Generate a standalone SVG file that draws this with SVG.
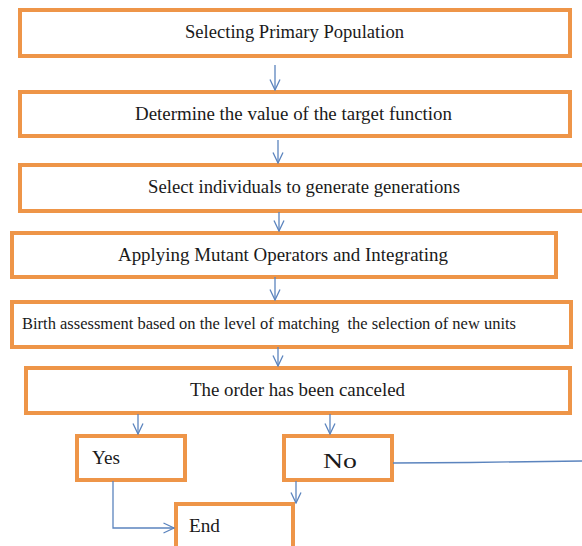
<svg xmlns="http://www.w3.org/2000/svg" width="582" height="546" viewBox="0 0 582 546">
<defs>
<style>
.box{fill:#ffffff;stroke:#EE9548;stroke-width:4;}
.t{font-family:"Liberation Serif","Times New Roman",serif;fill:#1a1a1a;}
.c{fill:none;stroke:#5B84BE;stroke-width:1.3;}
</style>
<marker id="ah" markerUnits="userSpaceOnUse" viewBox="0 0 12 12" refX="11.5" refY="6" markerWidth="12" markerHeight="12" orient="auto">
<path d="M1,1 L11.5,6 L1,11" fill="none" stroke="#5B84BE" stroke-width="1.3"/>
</marker>
</defs>
<rect width="582" height="546" fill="#ffffff"/>

<g id="n1">
<rect class="box" x="20" y="10" width="550" height="46"/>
<text class="t" x="294.5" y="38" font-size="18" text-anchor="middle" textLength="219" lengthAdjust="spacingAndGlyphs">Selecting Primary Population</text>
</g>
<g id="n2">
<rect class="box" x="20" y="92" width="550" height="44"/>
<text class="t" x="293.5" y="120" font-size="18" text-anchor="middle" textLength="317" lengthAdjust="spacingAndGlyphs">Determine the value of the target function</text>
</g>
<g id="n3">
<rect class="box" x="20" y="165" width="580" height="46"/>
<text class="t" x="304" y="193" font-size="18" text-anchor="middle" textLength="312" lengthAdjust="spacingAndGlyphs">Select individuals to generate generations</text>
</g>
<g id="n4">
<rect class="box" x="12" y="233" width="544" height="44"/>
<text class="t" x="283" y="261" font-size="19" text-anchor="middle" textLength="330" lengthAdjust="spacingAndGlyphs">Applying Mutant Operators and Integrating</text>
</g>
<g id="n5">
<rect class="box" x="12" y="302" width="559" height="45"/>
<text class="t" x="22" y="329" font-size="17" textLength="494" lengthAdjust="spacingAndGlyphs" xml:space="preserve">Birth assessment based on the level of matching  the selection of new units</text>
</g>
<g id="n6">
<rect class="box" x="26" y="368" width="544" height="45"/>
<text class="t" x="297.5" y="396" font-size="18" text-anchor="middle" textLength="215" lengthAdjust="spacingAndGlyphs">The order has been canceled</text>
</g>
<g id="yes">
<rect class="box" x="77" y="436" width="108" height="44"/>
<text class="t" x="92" y="464" font-size="18" textLength="28" lengthAdjust="spacingAndGlyphs">Yes</text>
</g>
<g id="no">
<rect class="box" x="284" y="436" width="108" height="44"/>
<text class="t" x="340" y="468" font-size="22" text-anchor="middle" textLength="34" lengthAdjust="spacingAndGlyphs">No</text>
</g>
<g id="end">
<rect class="box" x="176" y="504" width="117" height="52"/>
<text class="t" x="189" y="532" font-size="18" textLength="31" lengthAdjust="spacingAndGlyphs">End</text>
</g>

<g id="connectors">
<line class="c" x1="275" y1="65" x2="275" y2="90" marker-end="url(#ah)"/>
<line class="c" x1="278" y1="140" x2="278" y2="163" marker-end="url(#ah)"/>
<line class="c" x1="279" y1="212" x2="279" y2="231" marker-end="url(#ah)"/>
<line class="c" x1="275" y1="277" x2="275" y2="300" marker-end="url(#ah)"/>
<line class="c" x1="278" y1="347" x2="278" y2="366" marker-end="url(#ah)"/>
<line class="c" x1="138" y1="414" x2="138" y2="434" marker-end="url(#ah)"/>
<line class="c" x1="330" y1="414" x2="330" y2="434" marker-end="url(#ah)"/>
<polyline class="c" points="113,481 113,528 174,528" marker-end="url(#ah)"/>
<line class="c" x1="296" y1="481" x2="296" y2="503" marker-end="url(#ah)"/>
<polyline class="c" points="393,463 470,462.5 582,461"/>
</g>
</svg>
